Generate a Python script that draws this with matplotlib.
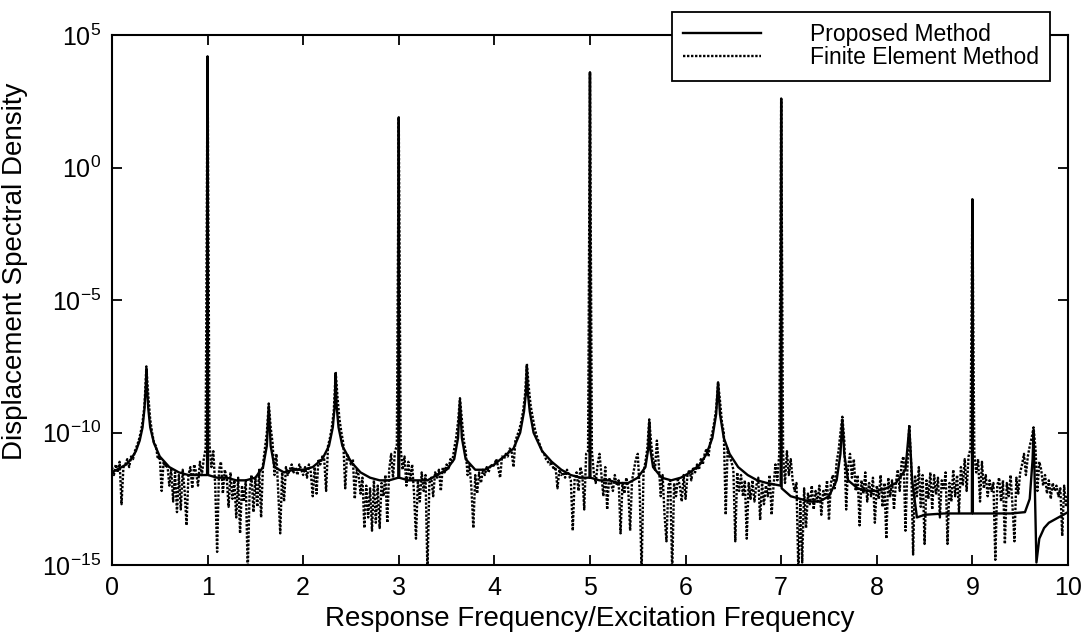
import numpy as np
import matplotlib
matplotlib.use("Agg")
import matplotlib.pyplot as plt

plt.rcParams["font.family"] = ["Liberation Sans", "DejaVu Sans"]
plt.rcParams["mathtext.fontset"] = "custom"
plt.rcParams["mathtext.rm"] = "Liberation Sans"
plt.rcParams["mathtext.it"] = "Liberation Sans:italic"

# Proposed method (solid line): frequency ratio and log10 of the spectral density
prop_x = [0.00, 0.05, 0.10, 0.15, 0.20, 0.25, 0.29, 0.32, 0.34, 0.355, 0.36, 0.365, 0.38, 0.40,
          0.44, 0.50, 0.60, 0.70, 0.80, 0.90, 0.995, 1.0, 1.005, 1.10, 1.20, 1.30, 1.40, 1.50,
          1.58, 1.62, 1.64, 1.66, 1.70, 1.80, 1.90, 2.00, 2.10, 2.20, 2.27, 2.31, 2.33, 2.34,
          2.35, 2.37, 2.41, 2.50, 2.60, 2.70, 2.80, 2.90, 2.995, 3.0, 3.005, 3.10, 3.20, 3.30,
          3.40, 3.50, 3.58, 3.62, 3.64, 3.66, 3.70, 3.80, 3.90, 4.00, 4.10, 4.20, 4.27, 4.31,
          4.33, 4.34, 4.35, 4.37, 4.41, 4.50, 4.60, 4.70, 4.80, 4.90, 4.995, 5.0, 5.005, 5.10,
          5.20, 5.30, 5.40, 5.50, 5.58, 5.61, 5.62, 5.63, 5.66, 5.75, 5.85, 5.95, 6.05, 6.15,
          6.22, 6.28, 6.32, 6.34, 6.36, 6.40, 6.46, 6.55, 6.65, 6.75, 6.85, 6.995, 7.0, 7.005,
          7.10, 7.20, 7.30, 7.40, 7.50, 7.58, 7.62, 7.64, 7.66, 7.70, 7.80, 7.90, 8.00, 8.10,
          8.20, 8.30, 8.34, 8.37, 8.42, 8.50, 8.70, 8.995, 9.0, 9.005, 9.20, 9.40, 9.55, 9.60,
          9.63, 9.64, 9.65, 9.67, 9.70, 9.75, 9.80, 9.90, 10.0]
prop_log = [-11.5, -11.4, -11.3, -11.2, -11.0, -10.7, -10.3, -9.8, -9.1, -8.2, -7.6, -8.2, -9.1, -9.8,
            -10.4, -10.9, -11.3, -11.5, -11.6, -11.6, -11.6, 4.2, -11.6, -11.7, -11.7, -11.8, -11.8, -11.7,
            -11.3, -10.5, -9.0, -10.5, -11.3, -11.5, -11.4, -11.4, -11.3, -11.0, -10.5, -9.8, -9.0, -7.8,
            -9.0, -9.8, -10.5, -11.1, -11.5, -11.7, -11.8, -11.8, -11.7, 1.9, -11.7, -11.8, -11.8, -11.8,
            -11.6, -11.4, -11.0, -10.2, -8.8, -10.2, -11.0, -11.4, -11.4, -11.2, -10.9, -10.6, -10.0, -9.2,
            -8.5, -7.5, -8.5, -9.2, -10.0, -10.7, -11.1, -11.4, -11.6, -11.7, -11.7, 3.6, -11.7, -11.8,
            -11.8, -11.9, -11.9, -11.7, -11.3, -10.6, -9.6, -10.6, -11.3, -11.7, -11.8, -11.7, -11.5, -11.2,
            -10.8, -10.2, -9.3, -8.1, -9.3, -10.2, -10.8, -11.3, -11.6, -11.8, -11.9, -12.0, 2.6, -12.1,
            -12.4, -12.5, -12.6, -12.6, -12.4, -11.8, -10.8, -9.5, -10.8, -11.8, -12.1, -12.2, -12.2, -12.1,
            -11.9, -11.4, -9.8, -11.8, -13.2, -13.1, -13.05, -13.05, -1.2, -13.05, -13.05, -13.05, -13.0, -12.5,
            -11.0, -9.9, -11.5, -14.9, -14.0, -13.6, -13.4, -13.2, -13.0]

# Finite element method (dotted line): log10 values on a 0.02 frequency-ratio grid, one row per unit
fem_log_rows = [
    [-11.3, -11.6, -11.2, -11.5, -11.1, -12.7, -11.3, -11.2, -11.0, -11.3,
     -10.9, -11.0, -10.7, -10.5, -10.3, -10.0, -9.6, -9.0, -7.5, -8.6,
     -9.5, -10.0, -10.4, -10.5, -11.0, -10.9, -12.2, -11.1, -11.3, -11.2,
     -12.0, -11.4, -12.6, -11.5, -13.0, -11.6, -12.9, -11.4, -12.2, -13.5,
     -11.6, -11.3, -12.1, -11.2, -11.5, -12.0, -11.1, -11.6, -11.0, -10.6],
    [4.2, -10.4, -11.3, -10.7, -12.0, -14.5, -11.4, -11.1, -12.3, -11.4,
     -11.7, -12.8, -11.5, -12.5, -11.8, -13.2, -11.7, -13.8, -12.0, -12.6,
     -11.8, -15.3, -12.2, -11.6, -13.0, -11.7, -12.8, -11.4, -13.2, -11.2,
     -10.6, -10.0, -8.9, -9.8, -10.4, -11.6, -10.8, -12.3, -13.8, -11.5,
     -12.6, -11.3, -11.6, -11.4, -11.2, -11.5, -11.3, -11.6, -11.2, -11.4],
    [-11.6, -11.3, -11.7, -11.2, -11.5, -12.4, -11.3, -12.3, -11.0, -11.2,
     -10.9, -11.0, -12.2, -10.5, -10.2, -9.8, -9.2, -7.7, -8.7, -9.5,
     -10.0, -10.4, -12.1, -10.8, -11.0, -11.2, -11.0, -12.5, -11.4, -11.6,
     -12.3, -11.7, -13.6, -12.0, -13.2, -12.1, -13.7, -11.8, -13.4, -12.0,
     -13.6, -11.9, -12.4, -11.6, -13.4, -11.4, -10.8, -11.7, -10.7, -10.5],
    [1.9, -10.6, -11.4, -10.9, -12.0, -11.1, -11.8, -11.2, -12.3, -14.0,
     -11.8, -12.6, -11.5, -12.2, -11.6, -15.3, -11.9, -11.7, -12.4, -11.5,
     -11.7, -11.4, -12.2, -11.3, -11.5, -11.2, -11.4, -11.0, -11.1, -10.6,
     -10.2, -9.6, -8.7, -9.5, -10.3, -10.7, -11.6, -11.2, -12.1, -13.6,
     -11.6, -12.3, -11.5, -11.9, -11.4, -11.6, -11.3, -11.5, -11.2, -11.3],
    [-11.2, -11.0, -11.3, -11.7, -10.9, -11.0, -10.8, -10.9, -10.6, -10.7,
     -11.3, -10.3, -10.1, -9.9, -9.6, -9.2, -8.6, -7.4, -8.3, -9.0,
     -9.4, -9.8, -10.1, -10.3, -10.5, -10.7, -10.8, -11.0, -11.1, -11.2,
     -11.1, -11.4, -11.3, -12.1, -11.4, -11.6, -11.5, -11.7, -11.4, -11.6,
     -11.8, -13.7, -11.7, -11.5, -12.2, -11.3, -11.6, -12.9, -10.8, -10.7],
    [3.6, -10.7, -11.5, -11.9, -11.2, -10.8, -11.6, -12.4, -11.3, -12.9,
     -11.7, -11.9, -12.2, -11.6, -12.0, -11.8, -13.8, -11.9, -12.3, -11.7,
     -12.1, -13.7, -11.8, -11.4, -11.0, -10.8, -12.2, -15.3, -11.5, -11.1,
     -10.6, -9.5, -10.4, -11.0, -11.4, -10.3, -11.2, -12.4, -11.6, -13.1,
     -14.1, -12.0, -11.8, -15.3, -11.9, -12.4, -11.7, -12.0, -12.6, -11.6],
    [-12.5, -11.6, -11.4, -11.8, -11.3, -11.5, -11.2, -11.4, -11.0, -11.2,
     -10.8, -10.6, -10.9, -10.3, -10.0, -9.6, -9.1, -8.1, -8.8, -9.6,
     -10.0, -13.1, -10.6, -10.9, -11.1, -11.4, -14.1, -11.5, -12.2, -11.6,
     -12.4, -11.8, -14.0, -11.9, -12.5, -11.8, -12.6, -12.0, -11.7, -13.3,
     -11.9, -12.7, -12.0, -12.4, -11.6, -13.1, -12.0, -11.2, -11.8, -10.8],
    [2.6, -10.8, -11.9, -10.7, -11.6, -11.0, -11.8, -12.2, -11.9, -15.3,
     -12.6, -14.9, -12.1, -13.6, -12.3, -12.7, -12.0, -12.9, -12.2, -12.6,
     -12.0, -13.1, -12.2, -12.4, -11.8, -13.3, -11.9, -11.6, -12.1, -11.1,
     -10.7, -10.0, -9.4, -10.3, -12.9, -11.3, -10.8, -11.7, -11.0, -12.2,
     -11.6, -13.5, -11.8, -12.3, -11.5, -12.6, -11.9, -12.4, -11.7, -13.4],
    [-12.0, -12.5, -11.6, -12.8, -11.9, -14.0, -11.7, -12.4, -11.8, -12.9,
     -11.9, -11.4, -12.2, -11.1, -10.9, -13.7, -11.4, -9.7, -11.2, -14.6,
     -11.6, -12.4, -11.3, -12.8, -11.6, -14.2, -11.8, -12.5, -11.5, -12.9,
     -11.6, -12.3, -11.7, -13.2, -11.8, -12.1, -11.5, -14.2, -11.9, -12.6,
     -11.4, -12.4, -11.6, -13.0, -11.3, -12.0, -11.0, -12.2, -10.9, -10.6],
    [-1.2, -10.8, -11.5, -11.0, -12.6, -11.1, -12.1, -11.6, -12.4, -11.8,
     -12.2, -11.9, -14.8, -12.0, -11.7, -12.6, -11.8, -14.2, -11.9, -12.4,
     -11.6, -12.8, -14.1, -11.7, -12.3, -11.5, -11.2, -10.8, -11.6, -10.9,
     -10.5, -10.2, -9.8, -10.6, -12.2, -11.1, -11.4, -12.0, -11.6, -12.3,
     -11.8, -12.5, -11.9, -12.2, -12.0, -12.4, -12.1, -13.9, -12.0, -12.8,
     -12.3],
]

x_ticks = list(range(0, 11))
y_ticks = [1e-15, 1e-10, 1e-5, 1e0, 1e5]

fem_log = np.concatenate([np.array(r) for r in fem_log_rows])
fem_x = np.round(np.linspace(0, 10, len(fem_log)), 2)

fig = plt.figure(figsize=(10.87, 6.35), dpi=100)
ax = fig.add_axes([0.103, 0.110, 0.8795, 0.8347])

ax.plot(prop_x, 10.0 ** np.array(prop_log), color="black", lw=1.7, ls="-",
        label="Proposed Method", zorder=3)
ax.plot(fem_x, 10.0 ** fem_log, color="black", lw=1.7, ls=(0, (1, 0.7)),
        label="Finite Element Method", zorder=2)

ax.set_yscale("log")
ax.set_xlim(0, 10)
ax.set_ylim(1e-15, 1e5)
ax.set_xticks(x_ticks)
ax.set_yticks(y_ticks)
ax.minorticks_off()
ax.tick_params(direction="in", length=7, width=1.3, top=True, right=True,
               labelsize=18, pad=8)
for s in ax.spines.values():
    s.set_linewidth(1.5)

ax.set_xlabel("Response Frequency/Excitation Frequency", fontsize=20, labelpad=4)
ax.set_ylabel("Displacement Spectral Density", fontsize=20)
ax.yaxis.set_label_coords(-0.088, 0.555)

leg = ax.legend(loc="upper left", bbox_to_anchor=(672 / 1087, 1 - 12 / 635),
                bbox_transform=fig.transFigure, borderaxespad=0, fancybox=False,
                edgecolor="black", framealpha=1, fontsize=16.5, handlelength=3.4,
                handletextpad=2.1, labelspacing=0.0, borderpad=0.5)
leg.get_frame().set_linewidth(1.3)

fig.savefig("out.png", dpi=100)
